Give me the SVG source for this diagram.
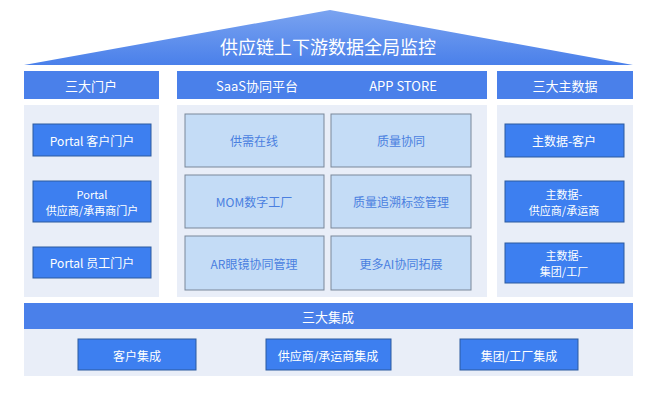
<svg xmlns="http://www.w3.org/2000/svg" width="660" height="403" viewBox="0 0 660 403">
<style>
text{font-family:"Noto Sans CJK SC","Noto Sans",sans-serif;text-anchor:middle;dominant-baseline:central}
.hdr{fill:#4a80ea}
.pan{fill:#e9eef8}
.bb{fill:#3d7ff0;stroke:#2d5a9e;stroke-width:1}
.lb{fill:#c4dcf6;stroke:#7a8799;stroke-width:1}
.wt{fill:#fff;font-size:12px}
.ws{fill:#fff;font-size:11px}
.ht{fill:#fff;font-size:13px}
.bt{fill:#4a7fe0;font-size:12px}
</style>
<defs><linearGradient id="rg" x1="0" y1="0" x2="0" y2="1"><stop offset="0" stop-color="#7aa3f0"/><stop offset="1" stop-color="#4a80ea"/></linearGradient></defs>
<rect width="660" height="403" fill="#fff"/>
<g id="roof"><polygon points="24,65 330,10 633,65" fill="url(#rg)"/><text x="328" y="46" fill="#fff" font-size="18">供应链上下游数据全局监控</text></g>
<g id="portals">
<rect class="hdr" x="24" y="71" width="135" height="28"/><text class="ht" x="91" y="85">三大门户</text>
<rect class="pan" x="24" y="105" width="135" height="192"/>
<rect class="bb" x="33" y="124" width="118" height="32"/><text class="wt" x="92" y="140">Portal 客户门户</text>
<rect class="bb" x="33" y="181" width="118" height="41"/><text class="ws" x="92" y="194">Portal</text><text class="ws" x="92" y="210">供应商/承再商门户</text>
<rect class="bb" x="33" y="247" width="118" height="31"/><text class="wt" x="92" y="262">Portal 员工门户</text>
</g>
<g id="saas">
<rect class="hdr" x="177" y="71" width="310" height="28"/><text class="ht" x="257" y="85">SaaS协同平台</text><text class="ht" x="403" y="85">APP STORE</text>
<rect class="pan" x="177" y="105" width="310" height="192"/>
<rect class="lb" x="185" y="114" width="139" height="53"/><text class="bt" x="254" y="140">供需在线</text>
<rect class="lb" x="331" y="114" width="140" height="53"/><text class="bt" x="401" y="140">质量协同</text>
<rect class="lb" x="185" y="175" width="139" height="53"/><text class="bt" x="254" y="201">MOM数字工厂</text>
<rect class="lb" x="331" y="175" width="140" height="53"/><text class="bt" x="401" y="201">质量追溯标签管理</text>
<rect class="lb" x="185" y="236" width="139" height="54"/><text class="bt" x="254" y="263">AR眼镜协同管理</text>
<rect class="lb" x="331" y="236" width="140" height="54"/><text class="bt" x="401" y="263">更多AI协同拓展</text>
</g>
<g id="masterdata">
<rect class="hdr" x="497" y="71" width="136" height="28"/><text class="ht" x="565" y="85">三大主数据</text>
<rect class="pan" x="497" y="105" width="136" height="192"/>
<rect class="bb" x="505" y="124" width="119" height="33"/><text class="wt" x="564" y="140">主数据-客户</text>
<rect class="bb" x="505" y="181" width="119" height="41"/><text class="ws" x="564" y="194">主数据-</text><text class="ws" x="564" y="210">供应商/承运商</text>
<rect class="bb" x="505" y="243" width="119" height="40"/><text class="ws" x="564" y="255">主数据-</text><text class="ws" x="564" y="271">集团/工厂</text>
</g>
<g id="integration">
<rect class="hdr" x="24" y="303" width="609" height="26"/><text class="ht" x="328" y="316">三大集成</text>
<rect class="pan" x="24" y="329" width="609" height="47"/>
<rect class="bb" x="78" y="339" width="118" height="31"/><text class="wt" x="137" y="355">客户集成</text>
<rect class="bb" x="266" y="339" width="125" height="31"/><text class="wt" x="328" y="355">供应商/承运商集成</text>
<rect class="bb" x="460" y="339" width="118" height="31"/><text class="wt" x="519" y="355">集团/工厂集成</text>
</g>
<g id="connectors"/>
</svg>
